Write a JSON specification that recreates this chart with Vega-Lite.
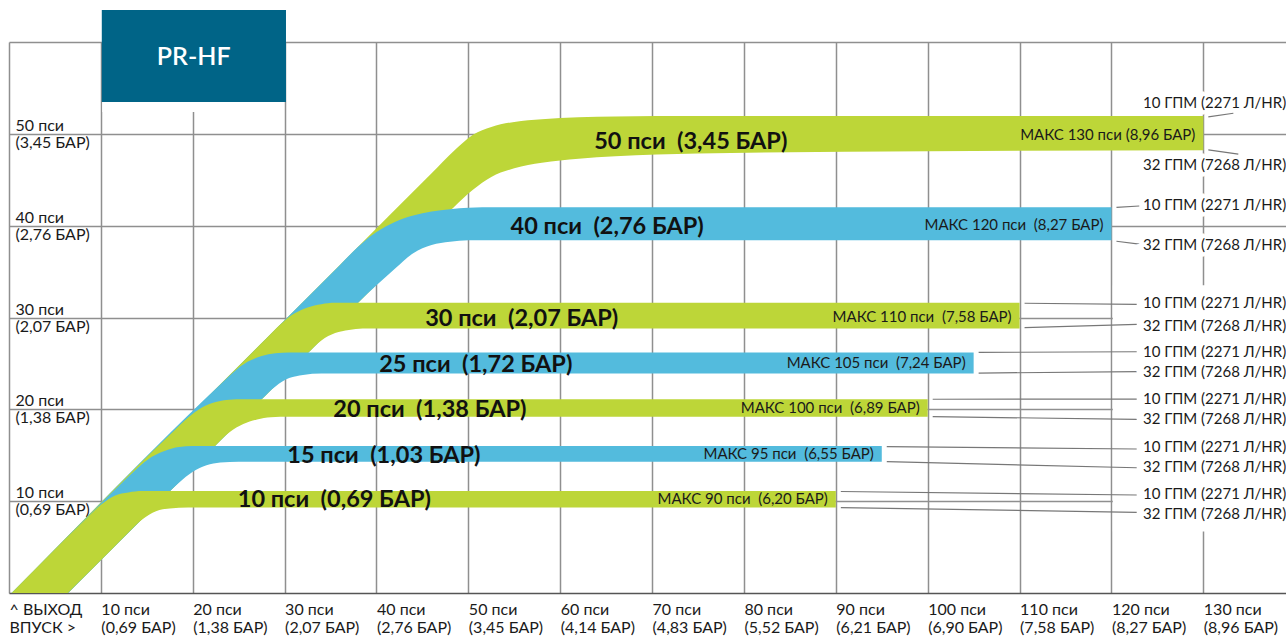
{
  "$schema": "https://vega.github.io/schema/vega-lite/v6.json",
  "width": 1277,
  "height": 551,
  "autosize": {"type": "none"},
  "padding": {"left": 9, "top": 42, "right": 0, "bottom": 43},
  "background": "white",
  "config": {
    "view": {"stroke": null},
    "font": "Lato",
    "axis": {"gridColor": "#8f8f8f", "gridWidth": 1.5, "ticks": false, "tickSize": 0, "labelColor": "#1a1a1a", "labelFontSize": 16}
  },
  "datasets": {
    "bands": [
      {"band": "50", "inlet": -10, "top": -10.3, "bottom": -16.4},
      {"band": "50", "inlet": 0, "top": -0.3, "bottom": -6.4},
      {"band": "50", "inlet": 46, "top": 45.7, "bottom": 39.6},
      {"band": "50", "inlet": 48.5, "top": 48.2, "bottom": 42.1},
      {"band": "50", "inlet": 50.5, "top": 49.9, "bottom": 43.9},
      {"band": "50", "inlet": 52.5, "top": 50.75, "bottom": 45.3},
      {"band": "50", "inlet": 55, "top": 51.3, "bottom": 46.25},
      {"band": "50", "inlet": 58, "top": 51.6, "bottom": 46.85},
      {"band": "50", "inlet": 62, "top": 51.8, "bottom": 47.3},
      {"band": "50", "inlet": 66, "top": 51.9, "bottom": 47.55},
      {"band": "50", "inlet": 75, "top": 51.95, "bottom": 47.85},
      {"band": "50", "inlet": 100, "top": 51.95, "bottom": 48.1},
      {"band": "50", "inlet": 130, "top": 51.95, "bottom": 48.2},

      {"band": "40", "inlet": -10, "top": -10.3, "bottom": -16.4},
      {"band": "40", "inlet": 0, "top": -0.3, "bottom": -6.4},
      {"band": "40", "inlet": 36, "top": 35.7, "bottom": 29.6},
      {"band": "40", "inlet": 38, "top": 37.7, "bottom": 31.6},
      {"band": "40", "inlet": 40, "top": 39.3, "bottom": 33.5},
      {"band": "40", "inlet": 42, "top": 40.4, "bottom": 35.3},
      {"band": "40", "inlet": 44, "top": 41.1, "bottom": 37.0},
      {"band": "40", "inlet": 46, "top": 41.55, "bottom": 37.9},
      {"band": "40", "inlet": 48, "top": 41.8, "bottom": 38.25},
      {"band": "40", "inlet": 50, "top": 41.95, "bottom": 38.4},
      {"band": "40", "inlet": 53, "top": 42.0, "bottom": 38.4},
      {"band": "40", "inlet": 120, "top": 42.0, "bottom": 38.4},

      {"band": "30", "inlet": -10, "top": -10.3, "bottom": -16.4},
      {"band": "30", "inlet": 0, "top": -0.3, "bottom": -6.4},
      {"band": "30", "inlet": 28, "top": 27.7, "bottom": 21.6},
      {"band": "30", "inlet": 29.5, "top": 29.2, "bottom": 23.1},
      {"band": "30", "inlet": 31, "top": 30.4, "bottom": 24.6},
      {"band": "30", "inlet": 32.5, "top": 31.1, "bottom": 26.1},
      {"band": "30", "inlet": 34, "top": 31.45, "bottom": 27.5},
      {"band": "30", "inlet": 35.5, "top": 31.6, "bottom": 28.3},
      {"band": "30", "inlet": 37, "top": 31.6, "bottom": 28.65},
      {"band": "30", "inlet": 38.5, "top": 31.6, "bottom": 28.8},
      {"band": "30", "inlet": 40, "top": 31.6, "bottom": 28.8},
      {"band": "30", "inlet": 110, "top": 31.6, "bottom": 28.8},

      {"band": "25", "inlet": -10, "top": -10.3, "bottom": -16.4},
      {"band": "25", "inlet": 0, "top": -0.3, "bottom": -6.4},
      {"band": "25", "inlet": 23, "top": 22.7, "bottom": 16.6},
      {"band": "25", "inlet": 24.5, "top": 24.1, "bottom": 18.1},
      {"band": "25", "inlet": 26, "top": 25.2, "bottom": 19.6},
      {"band": "25", "inlet": 27.5, "top": 25.8, "bottom": 21.1},
      {"band": "25", "inlet": 29, "top": 26.1, "bottom": 22.5},
      {"band": "25", "inlet": 30.5, "top": 26.2, "bottom": 23.4},
      {"band": "25", "inlet": 32, "top": 26.2, "bottom": 23.75},
      {"band": "25", "inlet": 34, "top": 26.2, "bottom": 23.9},
      {"band": "25", "inlet": 36, "top": 26.2, "bottom": 23.9},
      {"band": "25", "inlet": 105, "top": 26.2, "bottom": 23.9},

      {"band": "20", "inlet": -10, "top": -10.3, "bottom": -16.4},
      {"band": "20", "inlet": 0, "top": -0.3, "bottom": -6.4},
      {"band": "20", "inlet": 18, "top": 17.7, "bottom": 11.6},
      {"band": "20", "inlet": 19.5, "top": 19.1, "bottom": 13.1},
      {"band": "20", "inlet": 21, "top": 20.2, "bottom": 14.6},
      {"band": "20", "inlet": 22.5, "top": 20.8, "bottom": 16.1},
      {"band": "20", "inlet": 24, "top": 21.05, "bottom": 17.5},
      {"band": "20", "inlet": 25.5, "top": 21.1, "bottom": 18.4},
      {"band": "20", "inlet": 27, "top": 21.1, "bottom": 18.9},
      {"band": "20", "inlet": 28.5, "top": 21.1, "bottom": 19.15},
      {"band": "20", "inlet": 30.5, "top": 21.1, "bottom": 19.2},
      {"band": "20", "inlet": 100, "top": 21.1, "bottom": 19.2},

      {"band": "15", "inlet": -10, "top": -10.3, "bottom": -16.4},
      {"band": "15", "inlet": 0, "top": -0.3, "bottom": -6.4},
      {"band": "15", "inlet": 12, "top": 11.7, "bottom": 5.6},
      {"band": "15", "inlet": 14, "top": 13.6, "bottom": 7.6},
      {"band": "15", "inlet": 15.5, "top": 14.8, "bottom": 9.1},
      {"band": "15", "inlet": 17, "top": 15.5, "bottom": 10.6},
      {"band": "15", "inlet": 18.5, "top": 15.9, "bottom": 12.0},
      {"band": "15", "inlet": 20, "top": 16.0, "bottom": 13.2},
      {"band": "15", "inlet": 21.5, "top": 16.0, "bottom": 13.9},
      {"band": "15", "inlet": 23, "top": 16.0, "bottom": 14.2},
      {"band": "15", "inlet": 25, "top": 16.0, "bottom": 14.3},
      {"band": "15", "inlet": 95, "top": 16.0, "bottom": 14.3},

      {"band": "10", "inlet": -10, "top": -10.3, "bottom": -16.4},
      {"band": "10", "inlet": 0, "top": -0.3, "bottom": -6.4},
      {"band": "10", "inlet": 8, "top": 7.7, "bottom": 1.6},
      {"band": "10", "inlet": 10, "top": 9.6, "bottom": 3.6},
      {"band": "10", "inlet": 11.5, "top": 10.6, "bottom": 5.1},
      {"band": "10", "inlet": 13, "top": 10.95, "bottom": 6.6},
      {"band": "10", "inlet": 14.5, "top": 11.1, "bottom": 8.0},
      {"band": "10", "inlet": 16, "top": 11.1, "bottom": 8.9},
      {"band": "10", "inlet": 17.5, "top": 11.1, "bottom": 9.2},
      {"band": "10", "inlet": 19.5, "top": 11.1, "bottom": 9.3},
      {"band": "10", "inlet": 90, "top": 11.1, "bottom": 9.3}
    ],
    "names": [
      {"band": "50", "name": "50 пси \u00a0(3,45 БАР)", "max_label": "МАКС 130 пси (8,96 БАР)", "inlet_max": 130, "name_x": 63.7, "name_y": 49.35, "mid": 49.9},
      {"band": "40", "name": "40 пси \u00a0(2,76 БАР)", "max_label": "МАКС 120 пси \u00a0(8,27 БАР)", "inlet_max": 120, "name_x": 54.6, "name_y": 40.1, "mid": 40.1},
      {"band": "30", "name": "30 пси \u00a0(2,07 БАР)", "max_label": "МАКС 110 пси \u00a0(7,58 БАР)", "inlet_max": 110, "name_x": 45.3, "name_y": 30.1, "mid": 30.1},
      {"band": "25", "name": "25 пси \u00a0(1,72 БАР)", "max_label": "МАКС 105 пси \u00a0(7,24 БАР)", "inlet_max": 105, "name_x": 40.3, "name_y": 25.0, "mid": 25.0},
      {"band": "20", "name": "20 пси \u00a0(1,38 БАР)", "max_label": "МАКС 100 пси \u00a0(6,89 БАР)", "inlet_max": 100, "name_x": 35.3, "name_y": 20.1, "mid": 20.1},
      {"band": "15", "name": "15 пси \u00a0(1,03 БАР)", "max_label": "МАКС 95 пси \u00a0(6,55 БАР)", "inlet_max": 95, "name_x": 30.3, "name_y": 15.15, "mid": 15.15},
      {"band": "10", "name": "10 пси \u00a0(0,69 БАР)", "max_label": "МАКС 90 пси \u00a0(6,20 БАР)", "inlet_max": 90, "name_x": 24.9, "name_y": 10.35, "mid": 10.25}
    ],
    "flows": [
      {"band": "50", "flow": "10 ГПМ (2271 Л/HR)", "inlet_max": 130, "edge": 51.85, "lead_x": 133.27, "lead_y": 52.24, "label_y": 53.36},
      {"band": "50", "flow": "32 ГПМ (7268 Л/HR)", "inlet_max": 130, "edge": 48.25, "lead_x": 133.81, "lead_y": 47.8, "label_y": 46.61},
      {"band": "40", "flow": "10 ГПМ (2271 Л/HR)", "inlet_max": 120, "edge": 42.0, "lead_x": 123.03, "lead_y": 42.14, "label_y": 42.25},
      {"band": "40", "flow": "32 ГПМ (7268 Л/HR)", "inlet_max": 120, "edge": 38.3, "lead_x": 123.03, "lead_y": 38.0, "label_y": 37.89},
      {"band": "30", "flow": "10 ГПМ (2271 Л/HR)", "inlet_max": 110, "edge": 31.55, "lead_x": 122.75, "lead_y": 31.44, "label_y": 31.58},
      {"band": "30", "flow": "32 ГПМ (7268 Л/HR)", "inlet_max": 110, "edge": 28.9, "lead_x": 122.75, "lead_y": 29.26, "label_y": 29.07},
      {"band": "25", "flow": "10 ГПМ (2271 Л/HR)", "inlet_max": 105, "edge": 26.2, "lead_x": 122.75, "lead_y": 26.27, "label_y": 26.24},
      {"band": "25", "flow": "32 ГПМ (7268 Л/HR)", "inlet_max": 105, "edge": 23.95, "lead_x": 122.75, "lead_y": 24.1, "label_y": 24.06},
      {"band": "20", "flow": "10 ГПМ (2271 Л/HR)", "inlet_max": 100, "edge": 21.1, "lead_x": 122.75, "lead_y": 21.12, "label_y": 21.12},
      {"band": "20", "flow": "32 ГПМ (7268 Л/HR)", "inlet_max": 100, "edge": 19.2, "lead_x": 122.75, "lead_y": 18.91, "label_y": 18.95},
      {"band": "15", "flow": "10 ГПМ (2271 Л/HR)", "inlet_max": 95, "edge": 15.95, "lead_x": 122.75, "lead_y": 15.68, "label_y": 15.9},
      {"band": "15", "flow": "32 ГПМ (7268 Л/HR)", "inlet_max": 95, "edge": 14.3, "lead_x": 122.75, "lead_y": 13.64, "label_y": 13.72},
      {"band": "10", "flow": "10 ГПМ (2271 Л/HR)", "inlet_max": 90, "edge": 11.05, "lead_x": 122.75, "lead_y": 10.67, "label_y": 10.78},
      {"band": "10", "flow": "32 ГПМ (7268 Л/HR)", "inlet_max": 90, "edge": 9.3, "lead_x": 122.75, "lead_y": 8.79, "label_y": 8.6}
    ]
  },
  "layer": [
    {
      "data": {"name": "bands"},
      "mark": {"type": "area", "orient": "vertical", "interpolate": "monotone", "clip": true},
      "encoding": {
        "x": {
          "field": "inlet", "type": "quantitative",
          "scale": {"domain": [0, 139], "nice": false, "zero": false},
          "axis": {
            "orient": "bottom", "title": null, "values": [0, 10, 20, 30, 40, 50, 60, 70, 80, 90, 100, 110, 120, 130],
            "domain": true, "domainColor": "#555555", "domainWidth": 1.5,
            "labelAlign": "left", "labelBaseline": "top", "labelPadding": 8, "labelLineHeight": 18,
            "labelFlush": false, "labelOverlap": false, "labelBound": false,
            "labelExpr": "datum.value == 0 ? ['^ ВЫХОД', 'ВПУСК >'] : [datum.value + ' пси', ['', '(0,69 БАР)', '(1,38 БАР)', '(2,07 БАР)', '(2,76 БАР)', '(3,45 БАР)', '(4,14 БАР)', '(4,83 БАР)', '(5,52 БАР)', '(6,21 БАР)', '(6,90 БАР)', '(7,58 БАР)', '(8,27 БАР)', '(8,96 БАР)'][datum.value / 10]]"
          }
        },
        "y": {
          "field": "top", "type": "quantitative", "stack": null,
          "scale": {"domain": [0, 60], "nice": false, "zero": false},
          "axis": {
            "orient": "left", "title": null, "values": [10, 20, 30, 40, 50, 60],
            "domain": false, "labelAlign": "left", "labelBaseline": "middle", "labelPadding": -6, "labelLineHeight": 17, "labelOffset": -8.5,
            "labelFlush": false, "labelOverlap": false, "labelBound": false,
            "labelExpr": "datum.value == 60 ? '' : [datum.value + ' пси', ['', '(0,69 БАР)', '(1,38 БАР)', '(2,07 БАР)', '(2,76 БАР)', '(3,45 БАР)'][datum.value / 10]]"
          }
        },
        "y2": {"field": "bottom"},
        "color": {
          "field": "band", "type": "nominal", "legend": null,
          "scale": {"domain": ["50", "40", "30", "25", "20", "15", "10"], "range": ["#bdd638", "#53bbdd", "#bdd638", "#53bbdd", "#bdd638", "#53bbdd", "#bdd638"]}
        }
      }
    },
    {
      "data": {"values": [{"mask": "labels"}]},
      "mark": {"type": "rect", "color": "white"},
      "encoding": {
        "x": {"datum": 120.15, "type": "quantitative", "scale": {"domain": [0, 139]}},
        "x2": {"datum": 139.5},
        "y": {"datum": 6.7, "type": "quantitative", "scale": {"domain": [0, 60]}},
        "y2": {"datum": 33.5}
      }
    },
    {
      "data": {"values": [{"mask": "title"}]},
      "mark": {"type": "rect", "color": "white"},
      "encoding": {
        "x": {"datum": 10.15, "type": "quantitative", "scale": {"domain": [0, 139]}},
        "x2": {"datum": 29.9},
        "y": {"datum": 52.38, "type": "quantitative", "scale": {"domain": [0, 60]}},
        "y2": {"datum": 53.6}
      }
    },
    {
      "data": {"values": [{"title": "PR-HF"}]},
      "layer": [
        {
          "mark": {"type": "rect", "color": "#006487"},
          "encoding": {
            "x": {"datum": 10.1, "type": "quantitative", "scale": {"domain": [0, 139]}},
            "x2": {"datum": 30.15},
            "y": {"datum": 53.47, "type": "quantitative", "scale": {"domain": [0, 60]}},
            "y2": {"datum": 63.48}
          }
        },
        {
          "mark": {"type": "text", "color": "white", "fontSize": 25, "fontWeight": 600, "align": "center", "baseline": "middle"},
          "encoding": {
            "x": {"datum": 20.1, "type": "quantitative", "scale": {"domain": [0, 139]}},
            "y": {"datum": 58.4, "type": "quantitative", "scale": {"domain": [0, 60]}},
            "text": {"field": "title"}
          }
        }
      ]
    },
    {
      "data": {"name": "names"},
      "layer": [
        {
          "mark": {"type": "text", "fontSize": 23.5, "fontWeight": "bold", "color": "#111111", "align": "left", "baseline": "middle", "dy": 2},
          "encoding": {
            "x": {"field": "name_x", "type": "quantitative", "scale": {"domain": [0, 139]}, "title": null},
            "y": {"field": "name_y", "type": "quantitative", "scale": {"domain": [0, 60]}, "title": null},
            "text": {"field": "name"}
          }
        },
        {
          "mark": {"type": "text", "fontSize": 15, "color": "#1a1a1a", "align": "right", "baseline": "middle", "dx": -8},
          "encoding": {
            "x": {"field": "inlet_max", "type": "quantitative", "scale": {"domain": [0, 139]}, "title": null},
            "y": {"field": "mid", "type": "quantitative", "scale": {"domain": [0, 60]}, "title": null},
            "text": {"field": "max_label"}
          }
        }
      ]
    },
    {
      "data": {"name": "flows"},
      "layer": [
        {
          "mark": {"type": "rule", "color": "#777777", "strokeWidth": 1.2, "xOffset": 5},
          "encoding": {
            "x": {"field": "inlet_max", "type": "quantitative", "scale": {"domain": [0, 139]}, "title": null},
            "y": {"field": "edge", "type": "quantitative", "scale": {"domain": [0, 60]}, "title": null},
            "x2": {"field": "lead_x"},
            "y2": {"field": "lead_y"}
          }
        },
        {
          "mark": {"type": "text", "fontSize": 15, "align": "left", "baseline": "middle", "stroke": "white", "strokeWidth": 7, "color": "white"},
          "encoding": {
            "x": {"datum": 123.43, "type": "quantitative", "scale": {"domain": [0, 139]}},
            "y": {"field": "label_y", "type": "quantitative", "scale": {"domain": [0, 60]}, "title": null},
            "text": {"field": "flow"}
          }
        },
        {
          "mark": {"type": "text", "fontSize": 15, "align": "left", "baseline": "middle", "color": "#1a1a1a"},
          "encoding": {
            "x": {"datum": 123.43, "type": "quantitative", "scale": {"domain": [0, 139]}},
            "y": {"field": "label_y", "type": "quantitative", "scale": {"domain": [0, 60]}, "title": null},
            "text": {"field": "flow"}
          }
        }
      ]
    }
  ]
}
